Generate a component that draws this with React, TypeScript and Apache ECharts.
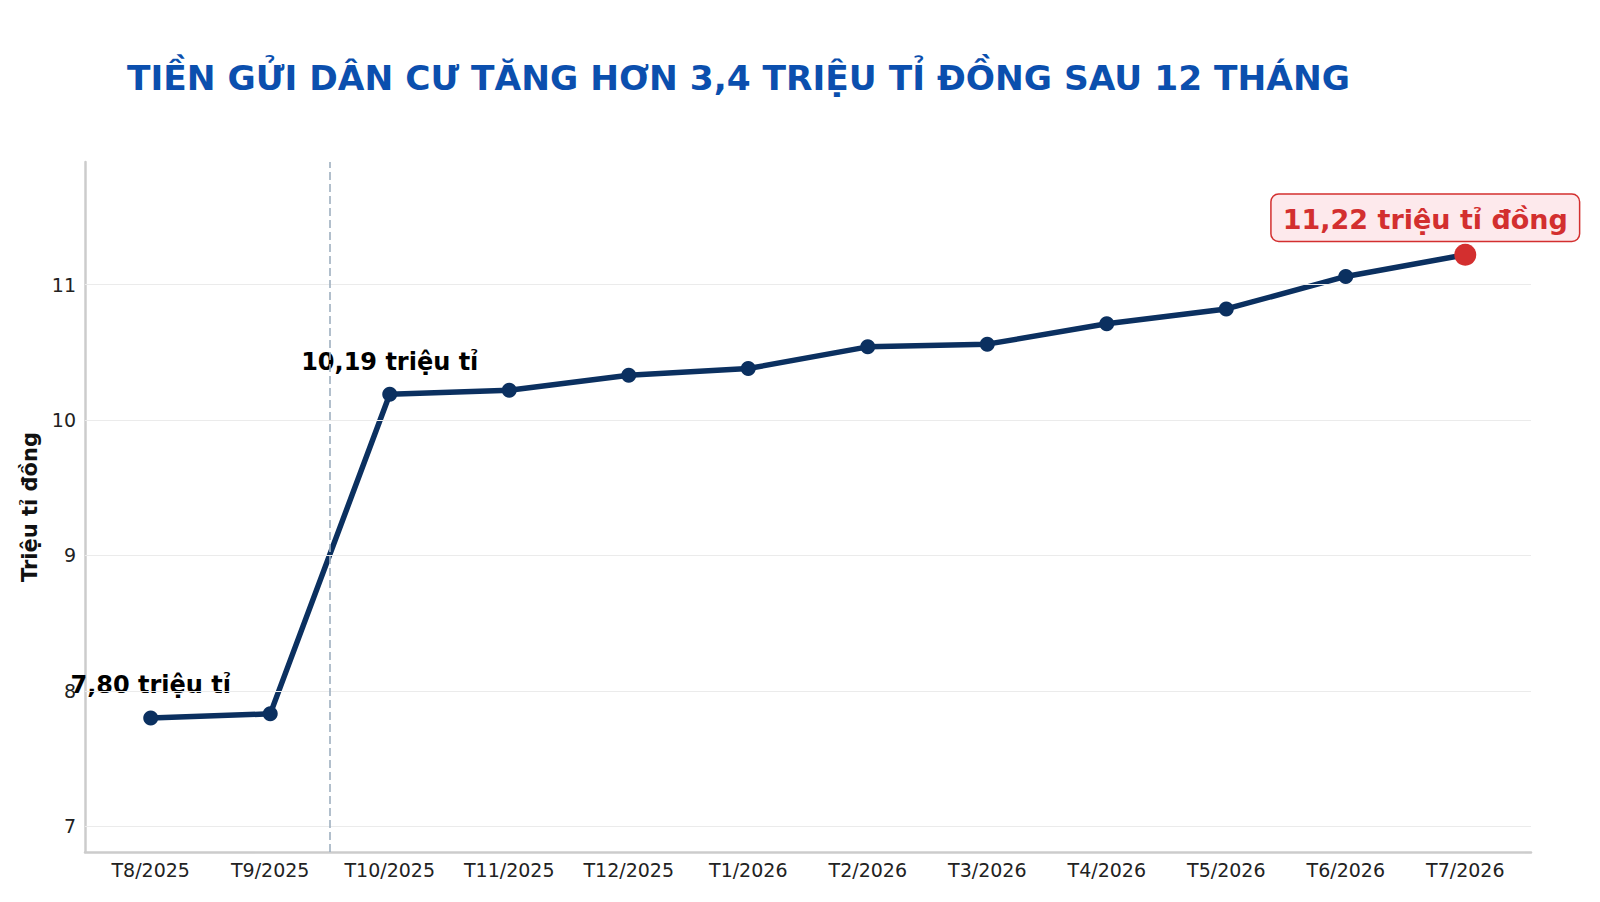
import React, { useEffect, useRef } from "react";
import * as echarts from "echarts";

const categories = ["T8/2025", "T9/2025", "T10/2025", "T11/2025", "T12/2025", "T1/2026", "T2/2026", "T3/2026", "T4/2026", "T5/2026", "T6/2026", "T7/2026"];
const values = [7.80, 7.83, 10.19, 10.22, 10.33, 10.38, 10.54, 10.56, 10.71, 10.82, 11.06, 11.22];
const yTicks = [7, 8, 9, 10, 11];
const annotations: Record<number, string> = { 0: "7,80 triệu tỉ", 2: "10,19 triệu tỉ" };
const highlightLabel = "11,22 triệu tỉ đồng";
const title = "TIỀN GỬI DÂN CƯ TĂNG HƠN 3,4 TRIỆU TỈ ĐỒNG SAU 12 THÁNG";
const yName = "Triệu tỉ đồng";
const dividerAt = 1.5;

const FONT = "DejaVu Sans";
const NAVY = "#0b3060";
const RED = "#d32f2f";

export default function App() {
  const ref = useRef<HTMLDivElement>(null);
  useEffect(() => {
    if (!ref.current) return;
    const chart = echarts.init(ref.current, null, { renderer: "svg" });
    const last = values.length - 1;
    const data = values.map((v, i) => {
      const item: any = { value: [i, v] };
      if (annotations[i]) {
        item.label = {
          show: true,
          position: "top",
          distance: 13,
          formatter: annotations[i],
          fontFamily: FONT,
          fontWeight: "bold",
          fontSize: 24,
          color: "#000",
        };
      }
      if (i === last) {
        item.symbolSize = 22;
        item.itemStyle = { color: RED };
        item.label = {
          show: true,
          position: "top",
          distance: 3,
          offset: [-40, 0],
          formatter: highlightLabel,
          fontFamily: FONT,
          fontWeight: "bold",
          fontSize: 27,
          color: RED,
          backgroundColor: "#fde9ec",
          borderColor: RED,
          borderWidth: 1.5,
          borderRadius: 7,
          padding: [11, 11, 8, 11],
        };
      }
      return item;
    });
    chart.setOption({
      animation: false,
      backgroundColor: "#ffffff",
      graphic: [
        {
          type: "text",
          x: 127,
          y: 78,
          style: {
            text: title,
            fontFamily: FONT,
            fontWeight: "bold",
            fontSize: 34.4,
            fill: "#0b4fae",
            textVerticalAlign: "middle",
          },
        },
      ],
      grid: { left: 85, right: 69, top: 162, bottom: 50, containLabel: false },
      xAxis: {
        type: "value",
        min: -0.55,
        max: 11.55,
        axisLine: { show: true, onZero: false, lineStyle: { color: "#cccccc", width: 2.5 } },
        axisTick: { show: false },
        splitLine: { show: false },
        axisLabel: {
          customValues: categories.map((_, i) => i),
          formatter: (v: number) => categories[Math.round(v)] ?? "",
          fontFamily: FONT,
          fontSize: 19,
          color: "#222",
          margin: 8,
        },
      },
      yAxis: {
        type: "value",
        min: 6.81,
        max: 11.905,
        name: yName,
        nameLocation: "middle",
        nameGap: 39,
        nameTextStyle: { fontFamily: FONT, fontWeight: "bold", fontSize: 21, color: "#111" },
        axisLine: { show: true, onZero: false, lineStyle: { color: "#cccccc", width: 2.5 } },
        axisTick: { show: false },
        splitLine: { show: false },
        axisLabel: {
          customValues: yTicks,
          fontFamily: FONT,
          fontSize: 19,
          color: "#222",
          margin: 9,
        },
      },
      series: [
        {
          type: "line",
          data: [],
          z: 1,
          silent: true,
          markLine: {
            silent: true,
            symbol: "none",
            label: { show: false },
            data: [
              ...yTicks.map((t) => ({ yAxis: t, lineStyle: { color: "#ebebeb", width: 1.2, type: "solid" } })),
              { xAxis: dividerAt, lineStyle: { color: "#9fb0c0", width: 1.6, type: [8, 4] } },
            ],
          },
        },
        {
          type: "line",
          z: 3,
          data,
          symbol: "circle",
          symbolSize: 15,
          lineStyle: { color: NAVY, width: 5.5 },
          itemStyle: { color: NAVY },
          label: { show: false },
        },
      ],
    });
    return () => chart.dispose();
  }, []);
  return (
    <div
      ref={ref}
      style={{ position: "fixed", left: 0, top: 0, width: 1600, height: 902, background: "#fff" }}
    />
  );
}
